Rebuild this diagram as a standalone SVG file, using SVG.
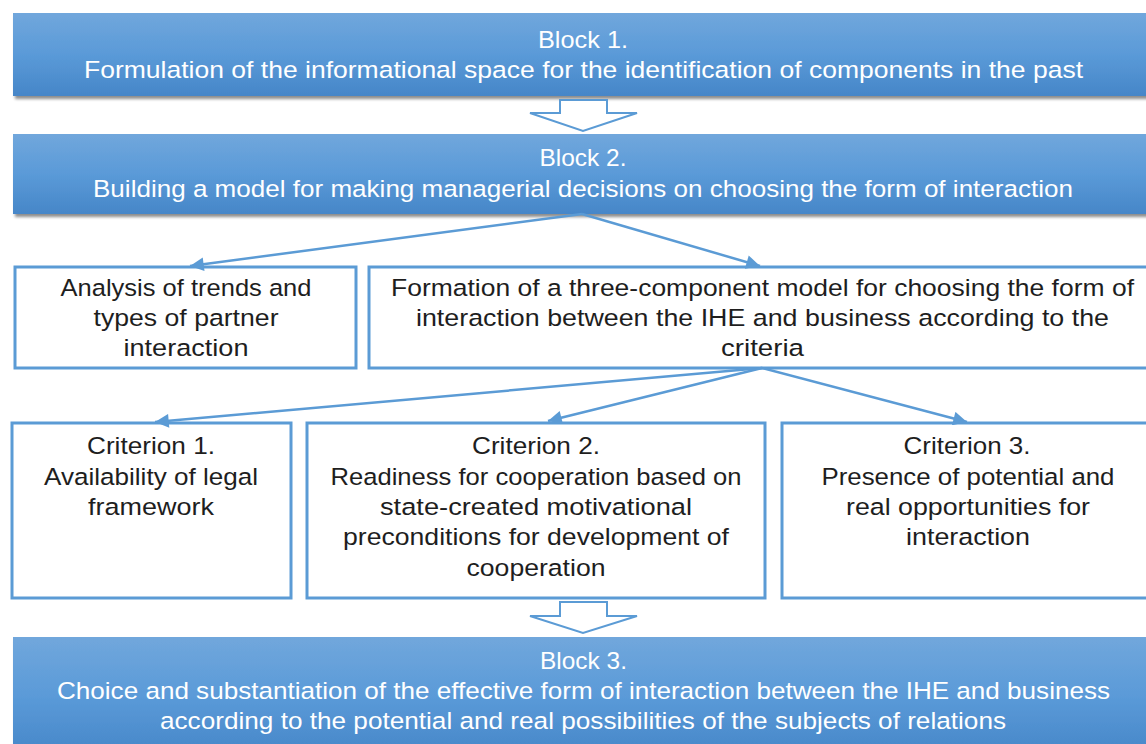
<svg xmlns="http://www.w3.org/2000/svg" width="1146" height="744" viewBox="0 0 1146 744">
<defs>
<linearGradient id="bg" x1="0" y1="0" x2="0" y2="1">
<stop offset="0" stop-color="#71a7dc"/>
<stop offset="0.5" stop-color="#5a9ad8"/>
<stop offset="1" stop-color="#4686c8"/>
</linearGradient>
<filter id="sh" x="-5%" y="-20%" width="110%" height="150%">
<feGaussianBlur in="SourceAlpha" stdDeviation="1.5"/>
<feOffset dx="2" dy="3" result="b"/>
<feComponentTransfer><feFuncA type="linear" slope="0.45"/></feComponentTransfer>
<feMerge><feMergeNode/><feMergeNode in="SourceGraphic"/></feMerge>
</filter>
<marker id="ah" viewBox="0 0 10 10" refX="10" refY="5" markerWidth="6" markerHeight="5.5" orient="auto" markerUnits="strokeWidth">
<path d="M0,0 L10,5 L0,10 z" fill="#5b9bd5"/>
</marker>
</defs>
<style>
.blk{fill:url(#bg);filter:url(#sh)}
.box{fill:#fff;stroke:#5b9bd5;stroke-width:3}
.barrow{fill:#fff;stroke:#5b9bd5;stroke-width:2}
.wt{fill:#fff;font-family:"Liberation Sans",Arial,sans-serif;font-size:24.5px;text-anchor:middle}
.dt{fill:#1e1e1e;font-family:"Liberation Sans",Arial,sans-serif;font-size:24.5px;text-anchor:middle}
.con{stroke:#5b9bd5;stroke-width:2.5;fill:none;marker-end:url(#ah)}
</style>
<rect width="1146" height="744" fill="#fff"/>

<g id="block1">
<rect class="blk" x="13" y="13" width="1150" height="83"/>
<text class="wt" x="583" y="48" textLength="90" lengthAdjust="spacingAndGlyphs">Block 1.</text>
<text class="wt" x="583.5" y="78" textLength="999" lengthAdjust="spacingAndGlyphs">Formulation of the informational space for the identification of components in the past</text>
</g>

<g id="arrow1">
<path class="barrow" d="M560,100 L607,100 L607,113 L637,113 L583,131 L530,113 L560,113 Z"/>
</g>

<g id="block2">
<rect class="blk" x="13" y="134" width="1150" height="80"/>
<text class="wt" x="583" y="166" textLength="87" lengthAdjust="spacingAndGlyphs">Block 2.</text>
<text class="wt" x="583" y="197" textLength="980" lengthAdjust="spacingAndGlyphs">Building a model for making managerial decisions on choosing the form of interaction</text>
</g>

<g id="analysis">
<rect class="box" x="15" y="267" width="341" height="101"/>
<text class="dt" x="186" y="296" textLength="251" lengthAdjust="spacingAndGlyphs">Analysis of trends and</text>
<text class="dt" x="186" y="326" textLength="185" lengthAdjust="spacingAndGlyphs">types of partner</text>
<text class="dt" x="186" y="356" textLength="125" lengthAdjust="spacingAndGlyphs">interaction</text>
</g>

<g id="formation">
<rect class="box" x="369" y="267" width="790" height="101"/>
<text class="dt" x="762.5" y="296" textLength="743" lengthAdjust="spacingAndGlyphs">Formation of a three-component model for choosing the form of</text>
<text class="dt" x="762.5" y="326" textLength="693" lengthAdjust="spacingAndGlyphs">interaction between the IHE and business according to the</text>
<text class="dt" x="762.5" y="356" textLength="83" lengthAdjust="spacingAndGlyphs">criteria</text>
</g>

<g id="criterion1">
<rect class="box" x="12" y="423" width="279" height="175"/>
<text class="dt" x="151" y="454" textLength="128" lengthAdjust="spacingAndGlyphs">Criterion 1.</text>
<text class="dt" x="151" y="485" textLength="214" lengthAdjust="spacingAndGlyphs">Availability of legal</text>
<text class="dt" x="151" y="515" textLength="126" lengthAdjust="spacingAndGlyphs">framework</text>
</g>

<g id="criterion2">
<rect class="box" x="307" y="423" width="458" height="175"/>
<text class="dt" x="536" y="454" textLength="128" lengthAdjust="spacingAndGlyphs">Criterion 2.</text>
<text class="dt" x="536" y="485" textLength="411" lengthAdjust="spacingAndGlyphs">Readiness for cooperation based on</text>
<text class="dt" x="536" y="515" textLength="312" lengthAdjust="spacingAndGlyphs">state-created motivational</text>
<text class="dt" x="536" y="545" textLength="386" lengthAdjust="spacingAndGlyphs">preconditions for development of</text>
<text class="dt" x="536" y="576" textLength="139" lengthAdjust="spacingAndGlyphs">cooperation</text>
</g>

<g id="criterion3">
<rect class="box" x="782" y="423" width="375" height="175"/>
<text class="dt" x="967" y="454" textLength="127" lengthAdjust="spacingAndGlyphs">Criterion 3.</text>
<text class="dt" x="968" y="485" textLength="293" lengthAdjust="spacingAndGlyphs">Presence of potential and</text>
<text class="dt" x="968" y="515" textLength="244" lengthAdjust="spacingAndGlyphs">real opportunities for</text>
<text class="dt" x="968" y="545" textLength="124" lengthAdjust="spacingAndGlyphs">interaction</text>
</g>

<g id="arrow2">
<path class="barrow" d="M560,602 L607,602 L607,616 L637,616 L583,633 L530,616 L560,616 Z"/>
</g>

<g id="block3">
<rect class="blk" x="13" y="637" width="1150" height="120"/>
<text class="wt" x="583.5" y="669" textLength="87" lengthAdjust="spacingAndGlyphs">Block 3.</text>
<text class="wt" x="583.5" y="699" textLength="1053" lengthAdjust="spacingAndGlyphs">Choice and substantiation of the effective form of interaction between the IHE and business</text>
<text class="wt" x="583" y="729" textLength="846" lengthAdjust="spacingAndGlyphs">according to the potential and real possibilities of the subjects of relations</text>
</g>

<g id="connectors">
<line class="con" x1="582" y1="214" x2="190" y2="266"/>
<line class="con" x1="582" y1="214" x2="760" y2="266"/>
<line class="con" x1="762" y1="368" x2="155" y2="422"/>
<line class="con" x1="762" y1="368" x2="548" y2="421"/>
<line class="con" x1="762" y1="368" x2="967" y2="422"/>
</g>
</svg>
